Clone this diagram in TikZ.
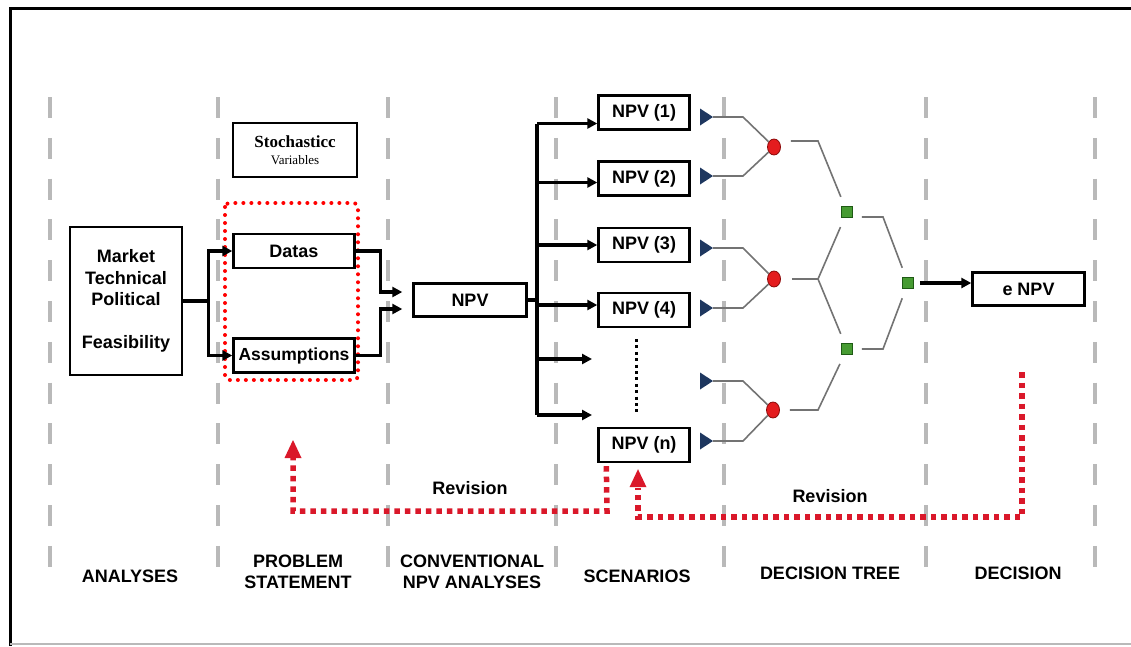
\documentclass[tikz,border=0pt]{standalone}
\usepackage{fontspec}
\setmainfont{Liberation Serif}
\setsansfont{Liberation Sans}
\usetikzlibrary{arrows.meta,shapes.geometric,calc}

\definecolor{sepgray}{RGB}{185,185,185}
\definecolor{treegray}{RGB}{115,115,115}
\definecolor{navytri}{RGB}{30,55,95}
\definecolor{nodered}{RGB}{228,28,30}
\definecolor{nodeedge}{RGB}{140,10,10}
\definecolor{nodegreen}{RGB}{70,155,50}
\definecolor{greenedge}{RGB}{30,90,20}
\definecolor{revred}{RGB}{218,24,42}
\definecolor{boxred}{RGB}{255,0,0}

\begin{document}
\begin{tikzpicture}[x=1pt,y=-1pt,
  box/.style={draw, line width=2.4pt, fill=white, inner sep=0pt,
    font=\sffamily\bfseries\fontsize{18}{21}\selectfont},
  npvbox/.style={box, minimum width=91pt, minimum height=34pt},
  lab/.style={font=\sffamily\bfseries\fontsize{18}{21}\selectfont, align=center, inner sep=0pt},
  conn/.style={line width=3.2pt},
  arr/.style={line width=3.2pt, -{Triangle[length=10pt,width=10pt]}},
  sep/.style={sepgray, line width=4pt, dash pattern=on 21pt off 19.8pt},
  tree/.style={treegray, line width=1.6pt},
  chance/.style={ellipse, fill=nodered, draw=nodeedge, line width=0.8pt,
    minimum width=13pt, minimum height=16pt, inner sep=0pt},
  decision/.style={rectangle, fill=nodegreen, draw=greenedge, line width=0.8pt,
    minimum size=11pt, inner sep=0pt},
  terminal/.style={navytri},
  revision/.style={revred, line width=5.5pt, dash pattern=on 5.5pt off 5pt},
  revlabel/.style={font=\sffamily\bfseries\fontsize{18}{21}\selectfont, inner sep=0pt}
]
\useasboundingbox (0,0) rectangle (1131,646);

% frame
\draw[line width=3pt] (10,646) -- (10,8) -- (1131,8);
\draw[gray!55, line width=1.2pt] (10,644) -- (1131,644);

% column separators
\foreach \x in {50,218,388,556,724,926,1095}
  \draw[sep] (\x,97) -- (\x,568);

% column titles
\node[lab] (tAnalyses) at (130,576) {ANALYSES};
\node[lab] (tProblem) at (298,572) {PROBLEM\\STATEMENT};
\node[lab] (tConv) at (472,572) {CONVENTIONAL\\NPV ANALYSES};
\node[lab] (tScen) at (637,576) {SCENARIOS};
\node[lab] (tTree) at (830,573) {DECISION TREE};
\node[lab] (tDecision) at (1018,573) {DECISION};

% analyses
\node[box, minimum width=112pt, minimum height=148pt, align=center,
  font=\sffamily\bfseries\fontsize{18}{21.5}\selectfont]
  (market) at (126,301) {Market\\Technical\\Political\\[21.5pt]Feasibility};

% problem statement
\node[draw, line width=1.5pt, minimum width=124pt, minimum height=54pt, inner sep=0pt, align=center,
  font=\fontsize{13}{17}\selectfont]
  (stoch) at (295,150) {{\bfseries\fontsize{17}{17}\selectfont Stochasticc}\\Variables};
\draw[boxred, line width=4pt, dash pattern=on 0pt off 8pt, line cap=round, rounded corners=4pt]
  (225,203) rectangle (358,380);
\node[box, minimum width=121pt, minimum height=34pt] (datas) at (294,251) {Datas};
\node[box, minimum width=121pt, minimum height=34pt,
  font=\sffamily\bfseries\fontsize{17.5}{21}\selectfont] (assum) at (294,355.5) {Assumptions};

\draw[arr] (market.east) -- ++(25,0) |- (datas.west);
\draw[arr] (market.east) -- ++(25,0) |- (assum.west);

% conventional NPV
\node[box, minimum width=113pt, minimum height=33pt] (npv) at (470,300) {NPV};
\coordinate (inA) at ([yshift=8pt]npv.west);
\coordinate (inB) at ([yshift=-9pt]npv.west);
\draw[arr, shorten >=10pt] (datas.east) -- ++(25,0) |- (inA);
\draw[arr, shorten >=10pt] (assum.east) -- ++(25,0) |- (inB);

% scenarios
\node[npvbox] (n1) at (644,112.5) {NPV (1)};
\node[npvbox] (n2) at (644,178.5) {NPV (2)};
\node[npvbox] (n3) at (644,245) {NPV (3)};
\node[npvbox] (n4) at (644,310) {NPV (4)};
\node[npvbox] (nn) at (644,445) {NPV (n)};

\coordinate (bus) at (537,300);
\coordinate (a1) at ([yshift=-11pt]n1.west);
\coordinate (a2) at ([yshift=-4pt]n2.west);
\coordinate (a3) at (n3.west);
\coordinate (a4) at ([yshift=5pt]n4.west);
\coordinate (free1) at (592,359);
\coordinate (free2) at (592,415);
\draw[conn] (npv.east) -- (bus);
\draw[conn] (a1 -| bus) -- (free2 -| bus);
\foreach \t in {a1,a2,a3,a4,free1,free2}
  \draw[arr] (\t -| bus) -- (\t);
\draw[line width=3pt, dash pattern=on 3pt off 3.4pt] (636,339) -- (636,413);

% decision tree: terminal markers
\foreach \n/\y in {1/117,2/176,3/248,4/308,5/381,6/441}{
  \coordinate (t\n) at (713,\y);
  \fill[terminal] (t\n) -- ++(-13,-8.5) -- ++(0,17) -- cycle;
}

% chance and decision nodes
\node[chance] (c1) at (774,147) {};
\node[chance] (c2) at (774,279) {};
\node[chance] (c3) at (773,410) {};
\node[decision] (s1) at (847,212) {};
\node[decision] (s3) at (847,349) {};
\node[decision] (s2) at (908,283) {};

\draw[tree] (t1) -- ++(30,0) -- (c1);
\draw[tree] (t2) -- ++(30,0) -- (c1);
\draw[tree] (t3) -- ++(30,0) -- (c2);
\draw[tree] (t4) -- ++(30,0) -- (c2);
\draw[tree] (t5) -- ++(30,0) -- (c3);
\draw[tree] (t6) -- ++(30,0) -- (c3);

\draw[tree, shorten <=10pt, shorten >=10pt] (c1.east) ++(0,-6) -- (818,141) -- (s1);
\draw[tree, shorten <=11pt] (c2.east) -- (818,279);
\draw[tree, shorten >=10pt] (818,279) -- (s1);
\draw[tree, shorten >=10pt] (818,279) -- (s3);
\draw[tree, shorten <=10pt, shorten >=10pt] (c3.east) -- (818,410) -- (s3);
\draw[tree, shorten <=9pt, shorten >=10pt] (s1.east) ++(0,5) -- (883,217) -- (s2);
\draw[tree, shorten <=9pt, shorten >=10pt] (s3.east) -- (883,349) -- (s2);

% decision
\node[box, minimum width=112pt, minimum height=33pt] (enpv) at (1028.5,289) {e NPV};
\draw[arr, shorten <=6pt] (s2.east) -- (enpv.west |- s2.east);

% revision loops
\coordinate (rev1end) at (293,440);
\coordinate (rev2start) at (1022,372);
\draw[revision] ([xshift=9pt, yshift=-3pt]nn.south west) -- (607,511) -- (293,511) -- (293,458);
\fill[revred] (rev1end) -- ++(-8.5,18) -- ++(17,0) -- cycle;
\draw[revision] (rev2start) -- (1022,517) -- (638,517) -- (638,488);
\coordinate (rev2end) at ([xshift=-6pt, yshift=-6pt]nn.south);
\fill[revred] (rev2end) -- ++(-8.5,18) -- ++(17,0) -- cycle;

\node[revlabel] (rev1) at (470,488) {Revision};
\node[revlabel] (rev2) at (830,496) {Revision};
\end{tikzpicture}
\end{document}
